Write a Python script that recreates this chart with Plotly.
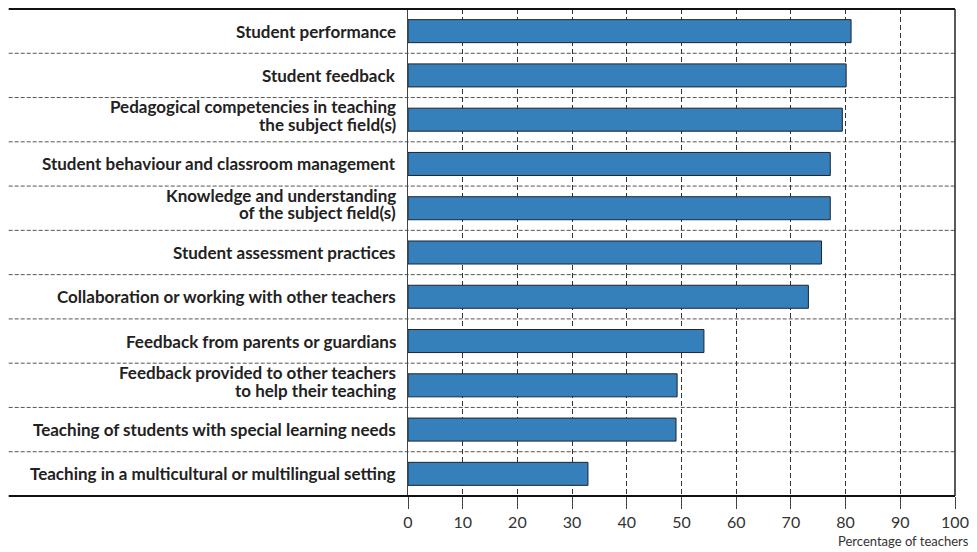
import plotly.graph_objects as go

categories = [
    "Student performance",
    "Student feedback",
    "Pedagogical competencies in teaching<br>the subject field(s)",
    "Student behaviour and classroom management",
    "Knowledge and understanding<br>of the subject field(s)",
    "Student assessment practices",
    "Collaboration or working with other teachers",
    "Feedback from parents or guardians",
    "Feedback provided to other teachers<br>to help their teaching",
    "Teaching of students with special learning needs",
    "Teaching in a multicultural or multilingual setting",
]
values = [81.0, 80.1, 79.4, 77.2, 77.2, 75.6, 73.2, 54.1, 49.2, 49.0, 32.9]
x_ticks = list(range(0, 101, 10))
x_title = "Percentage of teachers"

FONT = "Lato, 'Open Sans', sans-serif"
LABEL_SIZE = 17
LINE_GAP = 17.5
MULTI_OFFSET = 4

fig = go.Figure()
fig.add_trace(go.Bar(
    x=values,
    y=categories,
    orientation="h",
    width=0.52,
    marker=dict(color="#3580ba", line=dict(color="#1e2330", width=1)),
    hoverinfo="x+y",
))

shapes = []
for i in range(len(categories) - 1):
    shapes.append(dict(type="line", xref="paper", yref="y",
                       x0=-0.73, x1=1, y0=i + 0.5, y1=i + 0.5,
                       line=dict(color="#555555", width=1, dash="4px,2px"),
                       layer="below"))
for yy in (0, 1):
    shapes.append(dict(type="line", xref="paper", yref="paper",
                       x0=-0.73, x1=1, y0=yy, y1=yy,
                       line=dict(color="#111111", width=2)))
shapes.append(dict(type="line", xref="paper", yref="paper",
                   x0=1, x1=1, y0=0, y1=1,
                   line=dict(color="#222222", width=1.5)))

annotations = []
for cat in categories:
    lines = cat.split("<br>")
    n = len(lines)
    for k, line in enumerate(lines):
        shift = ((n - 1) / 2 - k) * LINE_GAP + (MULTI_OFFSET if n > 1 else 0)
        annotations.append(dict(
            text=line, xref="paper", yref="y", x=0, y=cat,
            xanchor="right", yanchor="middle", xshift=-10, yshift=shift,
            showarrow=False,
            font=dict(size=LABEL_SIZE, family=FONT, color="#222222", weight="bold"),
        ))
annotations.append(dict(
    text=x_title, xref="paper", yref="paper", x=1.03, y=-0.072,
    xanchor="right", yanchor="top", showarrow=False,
    font=dict(size=13, family=FONT, color="#333333"),
))

fig.update_layout(
    width=969, height=544,
    margin=dict(l=400, r=22, t=1, b=56),
    plot_bgcolor="white", paper_bgcolor="white",
    showlegend=False,
    shapes=shapes,
    annotations=annotations,
    font=dict(family=FONT, color="#222222"),
    xaxis=dict(
        range=[0, 100], tickvals=x_ticks, ticktext=[str(t) for t in x_ticks],
        showgrid=True, gridcolor="#333333", gridwidth=1, griddash="5px,3px",
        zeroline=False, showline=False,
        ticks="outside", ticklen=12, tickcolor="#444444", tickwidth=1,
        tickfont=dict(size=16, family=FONT, color="#333333"),
        fixedrange=True,
    ),
    yaxis=dict(
        categoryorder="array", categoryarray=categories,
        autorange="reversed",
        showgrid=False, zeroline=False,
        showline=True, linecolor="#444444", linewidth=1,
        ticks="", showticklabels=False,
        fixedrange=True,
    ),
)

fig.write_html("out.html")
